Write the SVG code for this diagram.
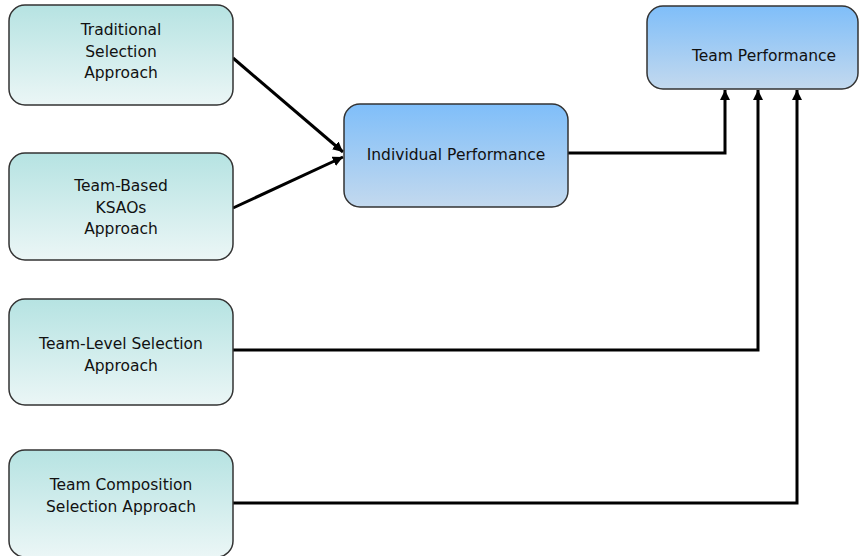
<svg xmlns="http://www.w3.org/2000/svg" width="860" height="556" viewBox="0 0 860 556">
<defs>
<linearGradient id="gc" x1="0" y1="0" x2="0" y2="1">
<stop offset="0" stop-color="#b6e3e2"/>
<stop offset="1" stop-color="#ebf6f6"/>
</linearGradient>
<linearGradient id="gb" x1="0" y1="0" x2="0" y2="1">
<stop offset="0" stop-color="#7fbef9"/>
<stop offset="1" stop-color="#c3d9ee"/>
</linearGradient>
<marker id="ah" viewBox="0 0 10 10" refX="10" refY="5" markerWidth="3.4" markerHeight="3.4" orient="auto" markerUnits="strokeWidth">
<path d="M0,0 L10,5 L0,10 z" fill="#000"/>
</marker>
<style>
.c{fill:url(#gc);stroke:#333;stroke-width:1.5}
.b{fill:url(#gb);stroke:#333;stroke-width:1.5}
text{font-family:"DejaVu Sans","Liberation Sans",sans-serif;font-size:15.5px;fill:#111;text-anchor:middle}
.e{fill:none;stroke:#000;stroke-width:3;marker-end:url(#ah)}
</style>
</defs>
<g id="connectors">
<path class="e" d="M233,58 L343,152"/>
<path class="e" d="M233,208 L343,157"/>
<path class="e" d="M568,153 L725,153 L725,90"/>
<path class="e" d="M233,350 L758,350 L758,90"/>
<path class="e" d="M233,503 L797,503 L797,90"/>
</g>
<g id="traditional">
<rect class="c" x="9" y="5" width="224" height="100" rx="16"/>
<text x="121" y="35">Traditional</text>
<text x="121" y="57">Selection</text>
<text x="121" y="78">Approach</text>
</g>
<g id="teambased">
<rect class="c" x="9" y="153" width="224" height="107" rx="16"/>
<text x="121" y="191">Team-Based</text>
<text x="121" y="213">KSAOs</text>
<text x="121" y="234">Approach</text>
</g>
<g id="teamlevel">
<rect class="c" x="9" y="299" width="224" height="106" rx="16"/>
<text x="121" y="349">Team-Level Selection</text>
<text x="121" y="371">Approach</text>
</g>
<g id="teamcomposition">
<rect class="c" x="9" y="450" width="224" height="107" rx="16"/>
<text x="121" y="490">Team Composition</text>
<text x="121" y="512">Selection Approach</text>
</g>
<g id="individual">
<rect class="b" x="344" y="104" width="224" height="103" rx="16"/>
<text x="456" y="160">Individual Performance</text>
</g>
<g id="team">
<rect class="b" x="647" y="6" width="211" height="83" rx="16"/>
<text x="764" y="61">Team Performance</text>
</g>
</svg>
